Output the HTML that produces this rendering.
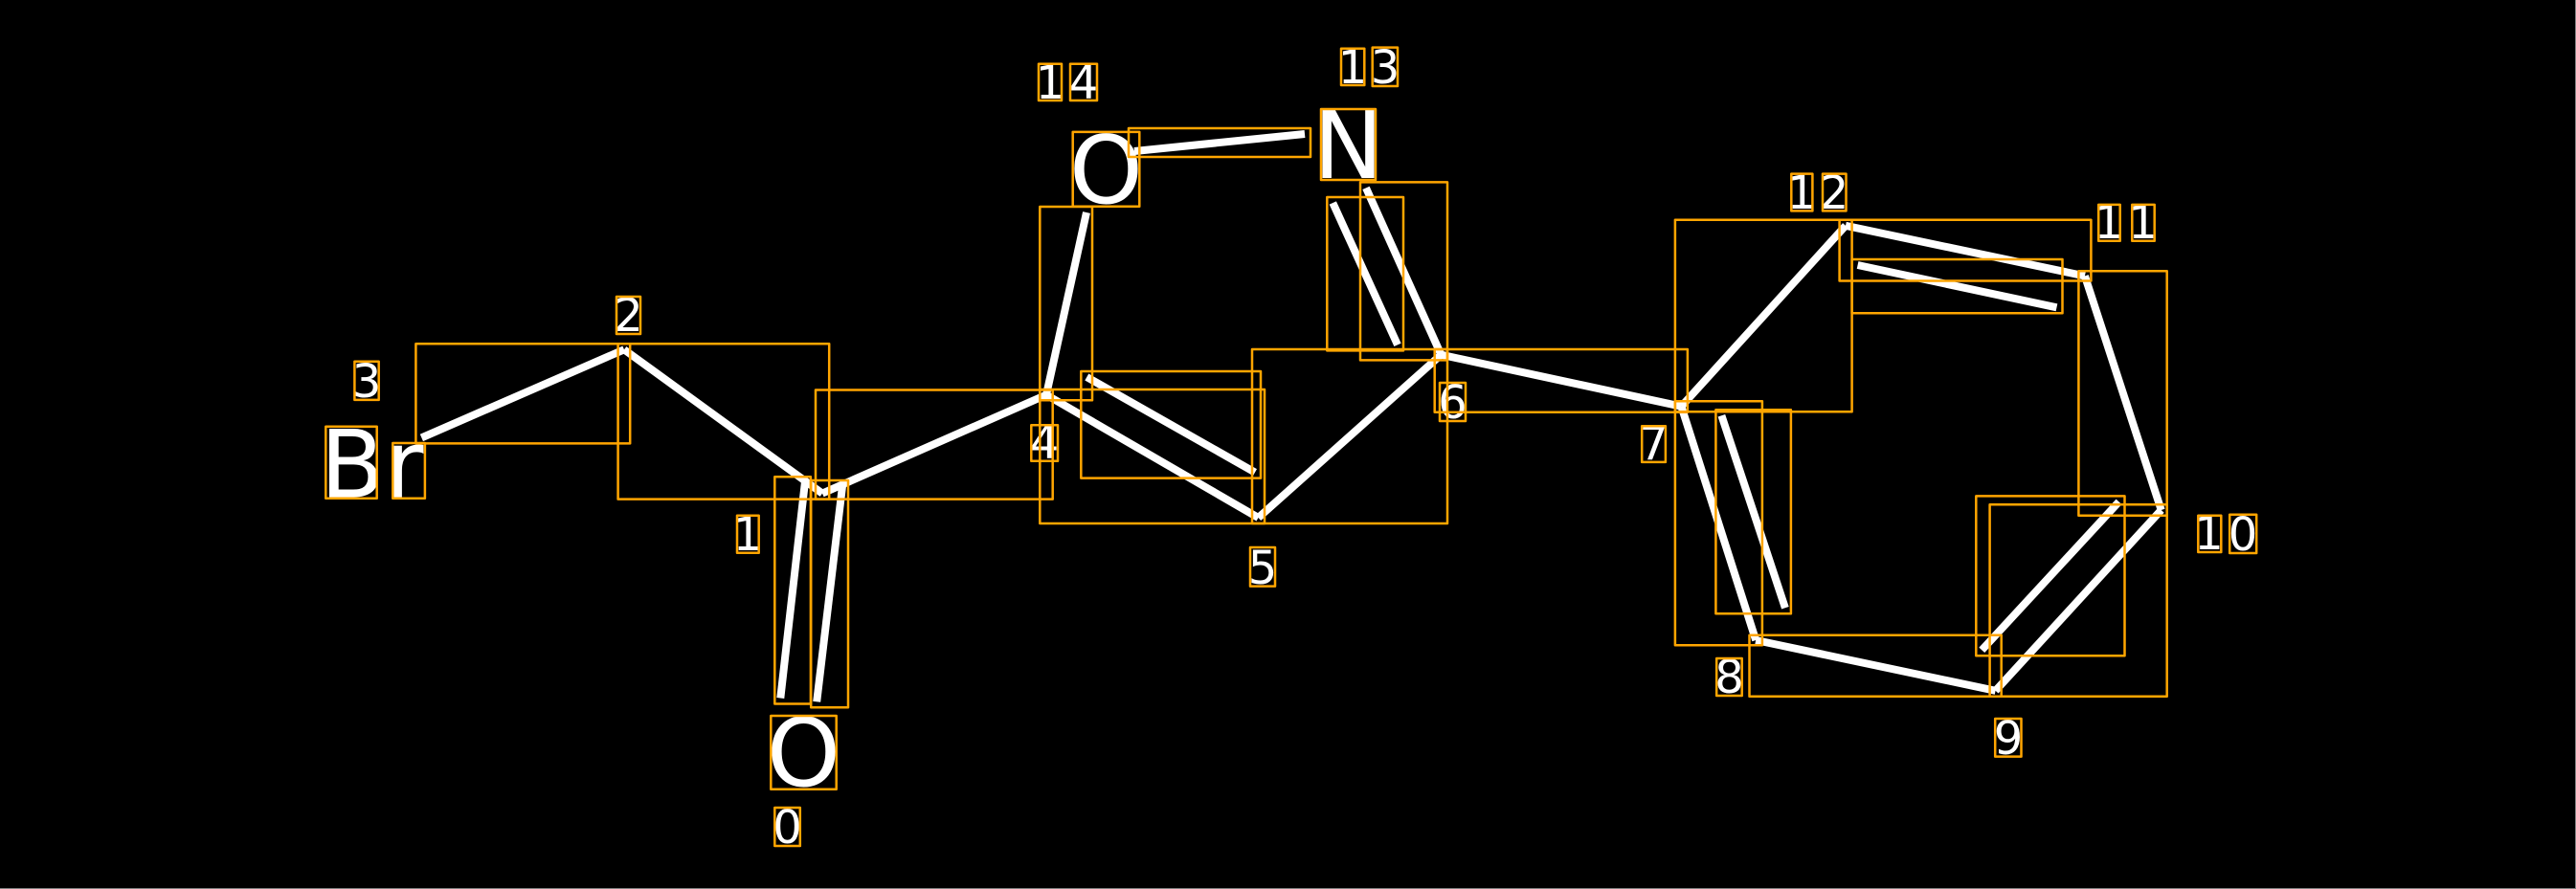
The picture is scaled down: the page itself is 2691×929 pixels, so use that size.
<!DOCTYPE html>
<html>
<head>
<meta charset="utf-8">
<style>
html,body{margin:0;padding:0;background:#000;width:2691px;height:929px;overflow:hidden}
svg{display:block}
text{font-family:"DejaVu Sans",sans-serif;fill:#fff;text-anchor:middle}
.a{font-size:98px}
.n{font-size:48px}
#b line{stroke:#fff;stroke-width:8;stroke-linecap:butt}
#r rect{fill:none;stroke:#FFA500;stroke-width:2.5;stroke-linejoin:round}
</style>
</head>
<body>
<svg xmlns="http://www.w3.org/2000/svg" width="2691" height="929" viewBox="0 0 2691 929">
<rect width="2691" height="929" fill="#000"/>
<rect x="2690" y="0" width="1" height="929" fill="#808080"/>
<rect x="0" y="928" width="2691" height="1" fill="#808080"/>
<g id="b">
<line x1="440.4" y1="457.4" x2="652" y2="365.3"/>
<line x1="652" y1="365.3" x2="859" y2="515.6"/>
<line x1="859" y1="515.6" x2="1093" y2="412.6"/>
<line x1="840.9" y1="504.2" x2="815.3" y2="729.5"/>
<line x1="880" y1="508" x2="853.2" y2="733.3"/>
<line x1="1135" y1="222" x2="1093" y2="412.6"/>
<line x1="1093" y1="412.6" x2="1314.5" y2="541"/>
<line x1="1135.3" y1="394" x2="1311" y2="493.6"/>
<line x1="1314.5" y1="541" x2="1505.4" y2="370.7"/>
<line x1="1185" y1="158" x2="1363" y2="140"/>
<line x1="1392.3" y1="212" x2="1460" y2="360.4"/>
<line x1="1427" y1="196.4" x2="1505.4" y2="370.7"/>
<line x1="1505.4" y1="370.7" x2="1756.4" y2="424.7"/>
<line x1="1756.4" y1="424.7" x2="1928" y2="235.8"/>
<line x1="1928" y1="235.8" x2="2177.9" y2="288.4"/>
<line x1="1940.6" y1="277" x2="2148.5" y2="321.3"/>
<line x1="2177.9" y1="288.4" x2="2257.7" y2="533"/>
<line x1="2257.7" y1="533" x2="2084.6" y2="721.8"/>
<line x1="2213.5" y1="524.4" x2="2070.3" y2="679.3"/>
<line x1="2084.6" y1="721.8" x2="1834.2" y2="669"/>
<line x1="1834.2" y1="669" x2="1756.4" y2="424.7"/>
<line x1="1798.4" y1="434.2" x2="1864.9" y2="635.2"/>
</g>
<g>
<text class="a" x="368" y="519.3">B</text>
<text class="a" x="422.3" y="519.3">r</text>
<text class="a" x="839.5" y="821">O</text>
<text class="a" x="1155.5" y="212">O</text>
<text class="a" x="1408.5" y="186">N</text>
<text class="n" x="822.5" y="881">0</text>
<text class="n" x="781" y="575">1</text>
<text class="n" x="656.5" y="346">2</text>
<text class="n" x="383" y="415">3</text>
<text class="n" x="1091" y="479">4</text>
<text class="n" x="1319" y="610">5</text>
<text class="n" x="1517.5" y="437">6</text>
<text class="n" x="1727.5" y="480">7</text>
<text class="n" x="1806.5" y="724">8</text>
<text class="n" x="2098" y="788">9</text>
<text class="n" x="2307.5" y="574">1</text>
<text class="n" x="2343" y="575">0</text>
<text class="n" x="2203" y="249">1</text>
<text class="n" x="2238.5" y="249">1</text>
<text class="n" x="1882" y="218">1</text>
<text class="n" x="1916" y="218">2</text>
<text class="n" x="1413" y="87">1</text>
<text class="n" x="1447" y="87">3</text>
<text class="n" x="1097" y="103">1</text>
<text class="n" x="1132" y="103">4</text>
</g>
<g id="r">
<rect x="434.4" y="359.3" width="223.8" height="104.1"/>
<rect x="645.6" y="359.3" width="220.6" height="162.3"/>
<rect x="852" y="407.5" width="247.7" height="114.1"/>
<rect x="809.3" y="498.2" width="37.6" height="237.3"/>
<rect x="847.2" y="502" width="38.8" height="237.3"/>
<rect x="1086.3" y="216" width="54.7" height="202.2"/>
<rect x="1086.3" y="407" width="234.7" height="140"/>
<rect x="1129.3" y="388" width="187.7" height="111.6"/>
<rect x="1308" y="365" width="204" height="182"/>
<rect x="1179" y="134" width="190" height="30"/>
<rect x="1386.3" y="206" width="79.7" height="160.4"/>
<rect x="1421" y="190.4" width="91" height="186"/>
<rect x="1498.7" y="365" width="264.2" height="65.7"/>
<rect x="1749.9" y="229.8" width="184.7" height="200.4"/>
<rect x="1921.6" y="229.8" width="262.8" height="63.7"/>
<rect x="1934.6" y="271" width="219.9" height="56.3"/>
<rect x="2171.4" y="283.3" width="92.3" height="255.5"/>
<rect x="2078.6" y="527.3" width="185.1" height="200.5"/>
<rect x="2064.3" y="518.4" width="155.2" height="166.9"/>
<rect x="1827.5" y="663.7" width="263.2" height="64.1"/>
<rect x="1749.9" y="419.2" width="91" height="255.1"/>
<rect x="1792.4" y="428.2" width="78.5" height="213"/>
<rect x="340.3" y="445.8" width="53.4" height="75"/>
<rect x="410.3" y="463" width="33.6" height="57.8"/>
<rect x="805.3" y="748" width="68.4" height="76.7"/>
<rect x="1120.7" y="137.9" width="69.6" height="77.8"/>
<rect x="1380" y="114" width="57" height="74"/>
<rect x="809.3" y="844" width="26.5" height="40"/>
<rect x="770" y="538.8" width="22.7" height="39"/>
<rect x="644" y="310" width="25" height="39"/>
<rect x="370.4" y="377.7" width="25.3" height="40.2"/>
<rect x="1077.3" y="444.3" width="27.7" height="37.5"/>
<rect x="1306" y="572" width="26" height="40.6"/>
<rect x="1504" y="400" width="27" height="40"/>
<rect x="1715.2" y="445.3" width="24.7" height="37.6"/>
<rect x="1793.2" y="688" width="26.5" height="39"/>
<rect x="2084.2" y="751" width="27.3" height="39.6"/>
<rect x="2296.3" y="538.8" width="24" height="38.2"/>
<rect x="2329.2" y="537.7" width="28" height="40.3"/>
<rect x="2192.2" y="213.9" width="22.5" height="37.9"/>
<rect x="2227.3" y="213.9" width="23.4" height="37.9"/>
<rect x="1871.3" y="181.6" width="22.1" height="38.8"/>
<rect x="1904" y="181.6" width="24.5" height="38.8"/>
<rect x="1401" y="50.7" width="24.3" height="38.3"/>
<rect x="1433.7" y="49.6" width="26.3" height="40.4"/>
<rect x="1085" y="66.8" width="24" height="38.2"/>
<rect x="1118" y="66.8" width="28" height="38.2"/>
</g>
</svg>
</body>
</html>
